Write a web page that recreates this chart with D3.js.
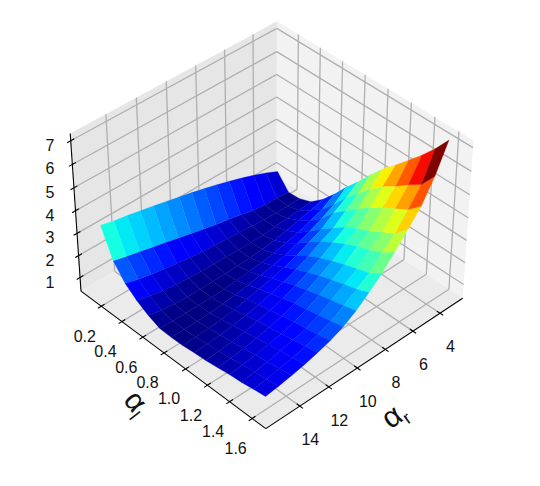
<!DOCTYPE html>
<html>
<head>
<meta charset="utf-8">
<script src="https://cdn.jsdelivr.net/npm/d3@7"></script>
<style>
  html, body { margin: 0; padding: 0; background: #fff; }
  text { font-family: "Liberation Sans", Arial, sans-serif; fill: #111; }
</style>
</head>
<body>
<svg id="chart" width="540" height="486"></svg>
<script>
// surface nodes
var alphaR = [3, 3.886, 4.771, 5.657, 6.543, 7.429, 8.314, 9.2, 10.086, 10.971, 11.857, 12.743, 13.629, 14.514, 15.4];
var alphaL = [0.1, 0.207, 0.314, 0.421, 0.529, 0.636, 0.743, 0.85, 0.957, 1.064, 1.171, 1.279, 1.386, 1.493, 1.6];

// one row per alphaL, one column per alphaR
var zValues = [
  [1.15, 1.4, 1.62, 1.82, 2.0, 2.17, 2.32, 2.47, 2.6, 2.73, 2.86, 2.98, 3.1, 3.2, 3.35],
  [0.52, 0.58, 0.6, 0.65, 0.8, 0.91, 1.02, 1.15, 1.29, 1.42, 1.57, 1.7, 1.84, 1.97, 2.12],
  [0.56, 0.55, 0.56, 0.58, 0.62, 0.66, 0.71, 0.75, 0.8, 0.87, 0.95, 1.05, 1.16, 1.29, 1.46],
  [0.76, 0.7, 0.66, 0.6, 0.56, 0.54, 0.55, 0.58, 0.59, 0.61, 0.64, 0.7, 0.78, 0.89, 1.05],
  [1.22, 1.05, 0.92, 0.78, 0.68, 0.6, 0.55, 0.53, 0.51, 0.51, 0.5, 0.5, 0.54, 0.61, 0.74],
  [1.8, 1.45, 1.25, 1.05, 0.9, 0.78, 0.7, 0.63, 0.57, 0.52, 0.5, 0.5, 0.5, 0.5, 0.52],
  [2.46, 2.0, 1.7, 1.45, 1.25, 1.05, 0.92, 0.82, 0.72, 0.64, 0.57, 0.52, 0.5, 0.5, 0.5],
  [3.05, 2.65, 2.3, 1.9, 1.65, 1.4, 1.2, 1.05, 0.92, 0.8, 0.68, 0.61, 0.56, 0.53, 0.51],
  [3.7, 3.2, 2.75, 2.3, 2.05, 1.72, 1.47, 1.25, 1.07, 0.93, 0.8, 0.7, 0.64, 0.6, 0.57],
  [4.3, 3.75, 3.2, 2.7, 2.35, 2.0, 1.7, 1.45, 1.23, 1.05, 0.92, 0.79, 0.71, 0.65, 0.61],
  [4.8, 4.2, 3.6, 3.0, 2.65, 2.23, 1.92, 1.62, 1.38, 1.17, 1.02, 0.89, 0.8, 0.73, 0.68],
  [5.35, 4.55, 3.95, 3.25, 2.9, 2.43, 2.1, 1.78, 1.5, 1.28, 1.12, 1.0, 0.91, 0.83, 0.76],
  [5.9, 4.95, 4.25, 3.55, 3.1, 2.62, 2.27, 1.92, 1.6, 1.37, 1.22, 1.1, 0.98, 0.9, 0.81],
  [6.5, 5.3, 4.55, 3.85, 3.35, 2.8, 2.42, 2.05, 1.72, 1.48, 1.32, 1.18, 1.07, 0.98, 0.9],
  [7.2, 6.0, 5.05, 4.4, 3.75, 3.15, 2.65, 2.2, 1.85, 1.6, 1.42, 1.27, 1.15, 1.05, 0.97]
];

var xTicks = [4, 6, 8, 10, 12, 14];
var yTicks = [0.2, 0.4, 0.6, 0.8, 1.0, 1.2, 1.4, 1.6];
var zTicks = [1, 2, 3, 4, 5, 6, 7];

var xLim = [2.3, 16.3], yLim = [0, 1.72], zLim = [0.37, 7.3];

// jet colormap stops
var jetR = d3.scaleLinear().domain([0, 0.35, 0.66, 0.89, 1]).range([0, 0, 1, 1, 0.5]);
var jetG = d3.scaleLinear().domain([0, 0.125, 0.375, 0.64, 0.91, 1]).range([0, 0, 1, 1, 0, 0]);
var jetB = d3.scaleLinear().domain([0, 0.11, 0.34, 0.65, 1]).range([0.5, 1, 1, 0, 0]);
function jet(t) {
  return d3.rgb(jetR(t) * 255, jetG(t) * 255, jetB(t) * 255).formatHex();
}

// camera, same recipe as mplot3d
var elev = 40 * Math.PI / 180, azim = 46.6 * Math.PI / 180, dist = 10;
var box = [1.143, 1.143, 0.857];
var sx = d3.scaleLinear().domain(xLim).range([0, box[0]]);
var sy = d3.scaleLinear().domain(yLim).range([0, box[1]]);
var sz = d3.scaleLinear().domain(zLim).range([0, box[2]]);
var w = [Math.cos(elev) * Math.cos(azim), Math.cos(elev) * Math.sin(azim), Math.sin(elev)];
var u = [-Math.sin(azim), Math.cos(azim), 0];
var v = [w[1] * u[2] - w[2] * u[1], w[2] * u[0] - w[0] * u[2], w[0] * u[1] - w[1] * u[0]];
function dot(a, b) { return a[0] * b[0] + a[1] * b[1] + a[2] * b[2]; }

var screenX = d3.scaleLinear().domain([-0.1, 0.1]).range([271.5 - 242.7, 271.5 + 242.7]);
var screenY = d3.scaleLinear().domain([-0.1, 0.1]).range([218 + 240, 218 - 240]);

function project(x, y, z) {
  var d = [sx(x) - box[0] / 2, sy(y) - box[1] / 2, sz(z) - box[2] / 2];
  var depth = dist - dot(w, d);
  return { x: screenX(dot(u, d) / depth), y: screenY(dot(v, d) / depth), depth: depth };
}

function pathOf(points) {
  return d3.line().x(function(p) { return p.x; }).y(function(p) { return p.y; })(points) + "Z";
}
function segment(a, b) {
  var p = project(a[0], a[1], a[2]), q = project(b[0], b[1], b[2]);
  return "M" + p.x + "," + p.y + "L" + q.x + "," + q.y;
}

var svg = d3.select("#chart");

// panes
var x0 = xLim[0], x1 = xLim[1], y0 = yLim[0], y1 = yLim[1], z0 = zLim[0], z1 = zLim[1];
var panes = [
  { fill: "#f2f2f2", pts: [[x0, y0, z0], [x0, y1, z0], [x0, y1, z1], [x0, y0, z1]] },
  { fill: "#e6e6e6", pts: [[x0, y0, z0], [x1, y0, z0], [x1, y0, z1], [x0, y0, z1]] },
  { fill: "#ebebeb", pts: [[x0, y0, z0], [x1, y0, z0], [x1, y1, z0], [x0, y1, z0]] }
];
svg.selectAll(".pane").data(panes).enter().append("path")
  .attr("class", "pane")
  .attr("fill", function(d) { return d.fill; })
  .attr("d", function(d) {
    return pathOf(d.pts.map(function(p) { return project(p[0], p[1], p[2]); }));
  });

// grid lines
var grid = [];
xTicks.forEach(function(t) {
  grid.push(segment([t, y0, z1], [t, y0, z0]) + segment([t, y0, z0], [t, y1, z0]));
});
yTicks.forEach(function(t) {
  grid.push(segment([x0, t, z1], [x0, t, z0]) + segment([x0, t, z0], [x1, t, z0]));
});
zTicks.forEach(function(t) {
  grid.push(segment([x1, y0, t], [x0, y0, t]) + segment([x0, y0, t], [x0, y1, t]));
});
svg.append("g").selectAll("path").data(grid).enter().append("path")
  .attr("d", function(d) { return d; })
  .attr("fill", "none").attr("stroke", "#b0b0b0").attr("stroke-width", 1.3);

// axis lines and ticks
var dx = (x1 - x0) * 0.016, dy = (y1 - y0) * 0.016;
var axisPaths = [segment([x0, y1, z0], [x1, y1, z0]), segment([x1, y0, z0], [x1, y1, z0]), segment([x1, y0, z0], [x1, y0, z1])];
xTicks.forEach(function(t) { axisPaths.push(segment([t, y1 - dy, z0], [t, y1 + dy, z0])); });
yTicks.forEach(function(t) { axisPaths.push(segment([x1 - dx, t, z0], [x1 + dx, t, z0])); });
zTicks.forEach(function(t) { axisPaths.push(segment([x1 - dx, y0, t], [x1 + dx, y0, t])); });
svg.append("g").selectAll("path").data(axisPaths).enter().append("path")
  .attr("d", function(d) { return d; })
  .attr("fill", "none").attr("stroke", "#000").attr("stroke-width", 1.1);

// surface cells, colour from the mean height, painted far to near
var cells = [];
for (var r = 0; r < alphaL.length - 1; r++) {
  for (var c = 0; c < alphaR.length - 1; c++) {
    var corners = [[r, c], [r, c + 1], [r + 1, c + 1], [r + 1, c]].map(function(k) {
      return project(alphaR[k[1]], alphaL[k[0]], zValues[k[0]][k[1]]);
    });
    cells.push({
      pts: corners,
      mean: (zValues[r][c] + zValues[r][c + 1] + zValues[r + 1][c] + zValues[r + 1][c + 1]) / 4,
      depth: d3.mean(corners, function(p) { return p.depth; })
    });
  }
}
var color = d3.scaleLinear().domain(d3.extent(cells, function(d) { return d.mean; })).range([0, 1]);
cells.sort(function(a, b) { return b.depth - a.depth; });
svg.append("g").selectAll("path").data(cells).enter().append("path")
  .attr("d", function(d) { return pathOf(d.pts); })
  .attr("fill", function(d) { return jet(color(d.mean)); })
  .attr("stroke", function(d) { return jet(color(d.mean)); })
  .attr("stroke-width", 0.3);

// tick labels
var fontSize = 16;
function tickLabel(list, pos, fmt) {
  svg.append("g").selectAll("text").data(list).enter().append("text")
    .attr("x", function(d) { return pos(d).x; })
    .attr("y", function(d) { return pos(d).y; })
    .attr("text-anchor", "middle").attr("dominant-baseline", "central")
    .attr("font-size", fontSize)
    .text(fmt);
}
tickLabel(xTicks, function(t) {
  var p = project(t, y1, z0);
  return { x: p.x + 10.5, y: p.y + 33.5 };
}, function(d) { return d; });
tickLabel(yTicks, function(t) {
  var p = project(x1, t, z0);
  return { x: p.x - 16.5, y: p.y + 30 };
}, d3.format(".1f"));
tickLabel(zTicks, function(t) {
  var p = project(x1, y0, t);
  return { x: 50, y: p.y + 4.5 };
}, function(d) { return d; });

// axis titles
var labelL = svg.append("text").attr("transform", "translate(129,409) rotate(52)")
  .attr("text-anchor", "middle").attr("font-size", 30);
labelL.append("tspan").text("α");
labelL.append("tspan").attr("font-size", 18).attr("dy", 6).text("l");
var labelR = svg.append("text").attr("transform", "translate(400,423) rotate(-36)")
  .attr("text-anchor", "middle").attr("font-size", 30);
labelR.append("tspan").text("α");
labelR.append("tspan").attr("font-size", 18).attr("dy", 6).text("r");
</script>
</body>
</html>
